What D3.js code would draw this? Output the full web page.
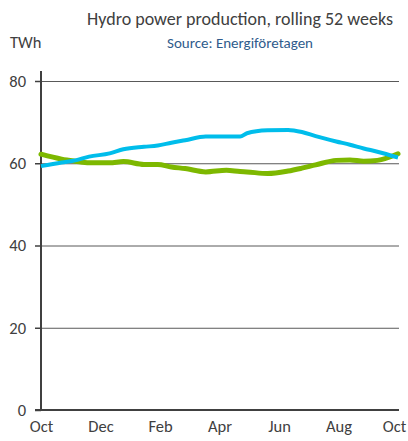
<!DOCTYPE html>
<html lang="en">
<head>
    <meta charset="UTF-8">
    <style>
        body { margin: 0; background: #fff; }
        text { font-family: Carlito, "Open Sans", sans-serif; fill: #404040; }
        .title { font-size: 18px; text-anchor: middle; }
        .source { font-size: 15px; text-anchor: middle; fill: #2f5b8c; }
        .tick text { font-size: 16.5px; fill: #404040; }
    </style>
    <script src="https://d3js.org/d3.v7.min.js"></script>
    <title>Hydro power production</title>
</head>
<body>
    <svg width="408" height="441"></svg>
    <script>

        // week number (0 = start of Oct) and production, rolling 52 weeks, TWh
        var weeks = [0, 3, 5, 7, 10, 12, 15, 17, 19, 21, 24, 27, 29, 30, 33, 36, 38, 40, 43, 45, 47, 49, 52];
        var blueSeries = [59.3, 60.2, 60.7, 61.6, 62.4, 63.4, 64.0, 64.3, 65.0, 65.6, 66.5, 66.5, 66.5, 67.3, 68.0, 68.1, 67.6, 66.6, 65.3, 64.5, 63.6, 62.8, 61.4];
        var greenSeries = [62.2, 61.0, 60.5, 60.1, 60.1, 60.4, 59.7, 59.7, 59.1, 58.7, 57.9, 58.3, 58.0, 57.9, 57.5, 58.1, 58.8, 59.6, 60.7, 60.8, 60.5, 60.7, 62.3];

        var monthLabels = ["Oct", "Dec", "Feb", "Apr", "Jun", "Aug", "Oct"];
        var yTicks = [0, 20, 40, 60, 80];

        var svg = d3.select("svg");

        var plotLeft = 41, plotRight = 398, plotTop = 81, plotBottom = 410;

        var x = d3.scaleLinear().domain([0, 52]).range([plotLeft, plotRight]);
        var y = d3.scaleLinear().domain([0, 80]).range([plotBottom, plotTop]);

        // month label positions, every two months
        var monthX = d3.scaleLinear().domain([0, 12]).range([plotLeft, plotRight]);

        // gridlines
        svg.append("g")
           .selectAll("line")
           .data(yTicks.slice(1))
           .enter().append("line")
           .attr("x1", plotLeft).attr("x2", plotRight + 1)
           .attr("y1", function(d) { return y(d) + 0.5; })
           .attr("y2", function(d) { return y(d) + 0.5; })
           .attr("stroke", "#595959")
           .attr("stroke-width", 1);

        // y axis
        var yAxis = svg.append("g")
           .attr("transform", "translate(" + plotLeft + ",0)")
           .call(d3.axisLeft(y).tickValues(yTicks).tickSize(6).tickPadding(9));
        yAxis.select(".domain").attr("d", "M0," + (plotTop - 10) + "V" + plotBottom)
             .attr("stroke", "#404040").attr("stroke-width", 2);
        yAxis.selectAll(".tick line").attr("stroke", "#404040").attr("stroke-width", 1.5);
        yAxis.selectAll(".tick text").attr("font-family", null).attr("font-size", null);

        // x axis
        var xAxis = svg.append("g")
           .attr("transform", "translate(0," + plotBottom + ")")
           .call(d3.axisBottom(monthX).tickValues([0, 2, 4, 6, 8, 10, 12])
                   .tickFormat(function(d, i) { return monthLabels[i]; })
                   .tickSize(0).tickPadding(10));
        xAxis.select(".domain").attr("d", "M" + (plotLeft - 6) + ",0H" + (plotRight + 1))
             .attr("stroke", "#404040").attr("stroke-width", 2);
        xAxis.selectAll(".tick text").attr("font-family", null).attr("font-size", null)
             .attr("dy", "0.7em")
             .attr("dx", function(d) { return d === 12 ? -4 : 0; });

        var line = d3.line()
            .x(function(d) { return x(d[0]); })
            .y(function(d) { return y(d[1]); })
            .curve(d3.curveMonotoneX);

        svg.append("path")
           .datum(weeks.map(function(w, i) { return [w, greenSeries[i]]; }))
           .attr("d", line)
           .attr("fill", "none")
           .attr("stroke", "#7db800")
           .attr("stroke-width", 5)
           .attr("stroke-linecap", "round");

        svg.append("path")
           .datum(weeks.map(function(w, i) { return [w, blueSeries[i]]; }))
           .attr("d", line)
           .attr("fill", "none")
           .attr("stroke", "#00bdeb")
           .attr("stroke-width", 4);

        // titles
        svg.append("text").attr("class", "title")
           .attr("x", 240).attr("y", 25)
           .text("Hydro power production, rolling 52 weeks");
        svg.append("text").attr("class", "source")
           .attr("x", 240).attr("y", 48)
           .text("Source: Energiföretagen");
        svg.append("text")
           .attr("x", 10).attr("y", 48)
           .style("font-size", "16.5px")
           .text("TWh");

    </script>
</body>
</html>
